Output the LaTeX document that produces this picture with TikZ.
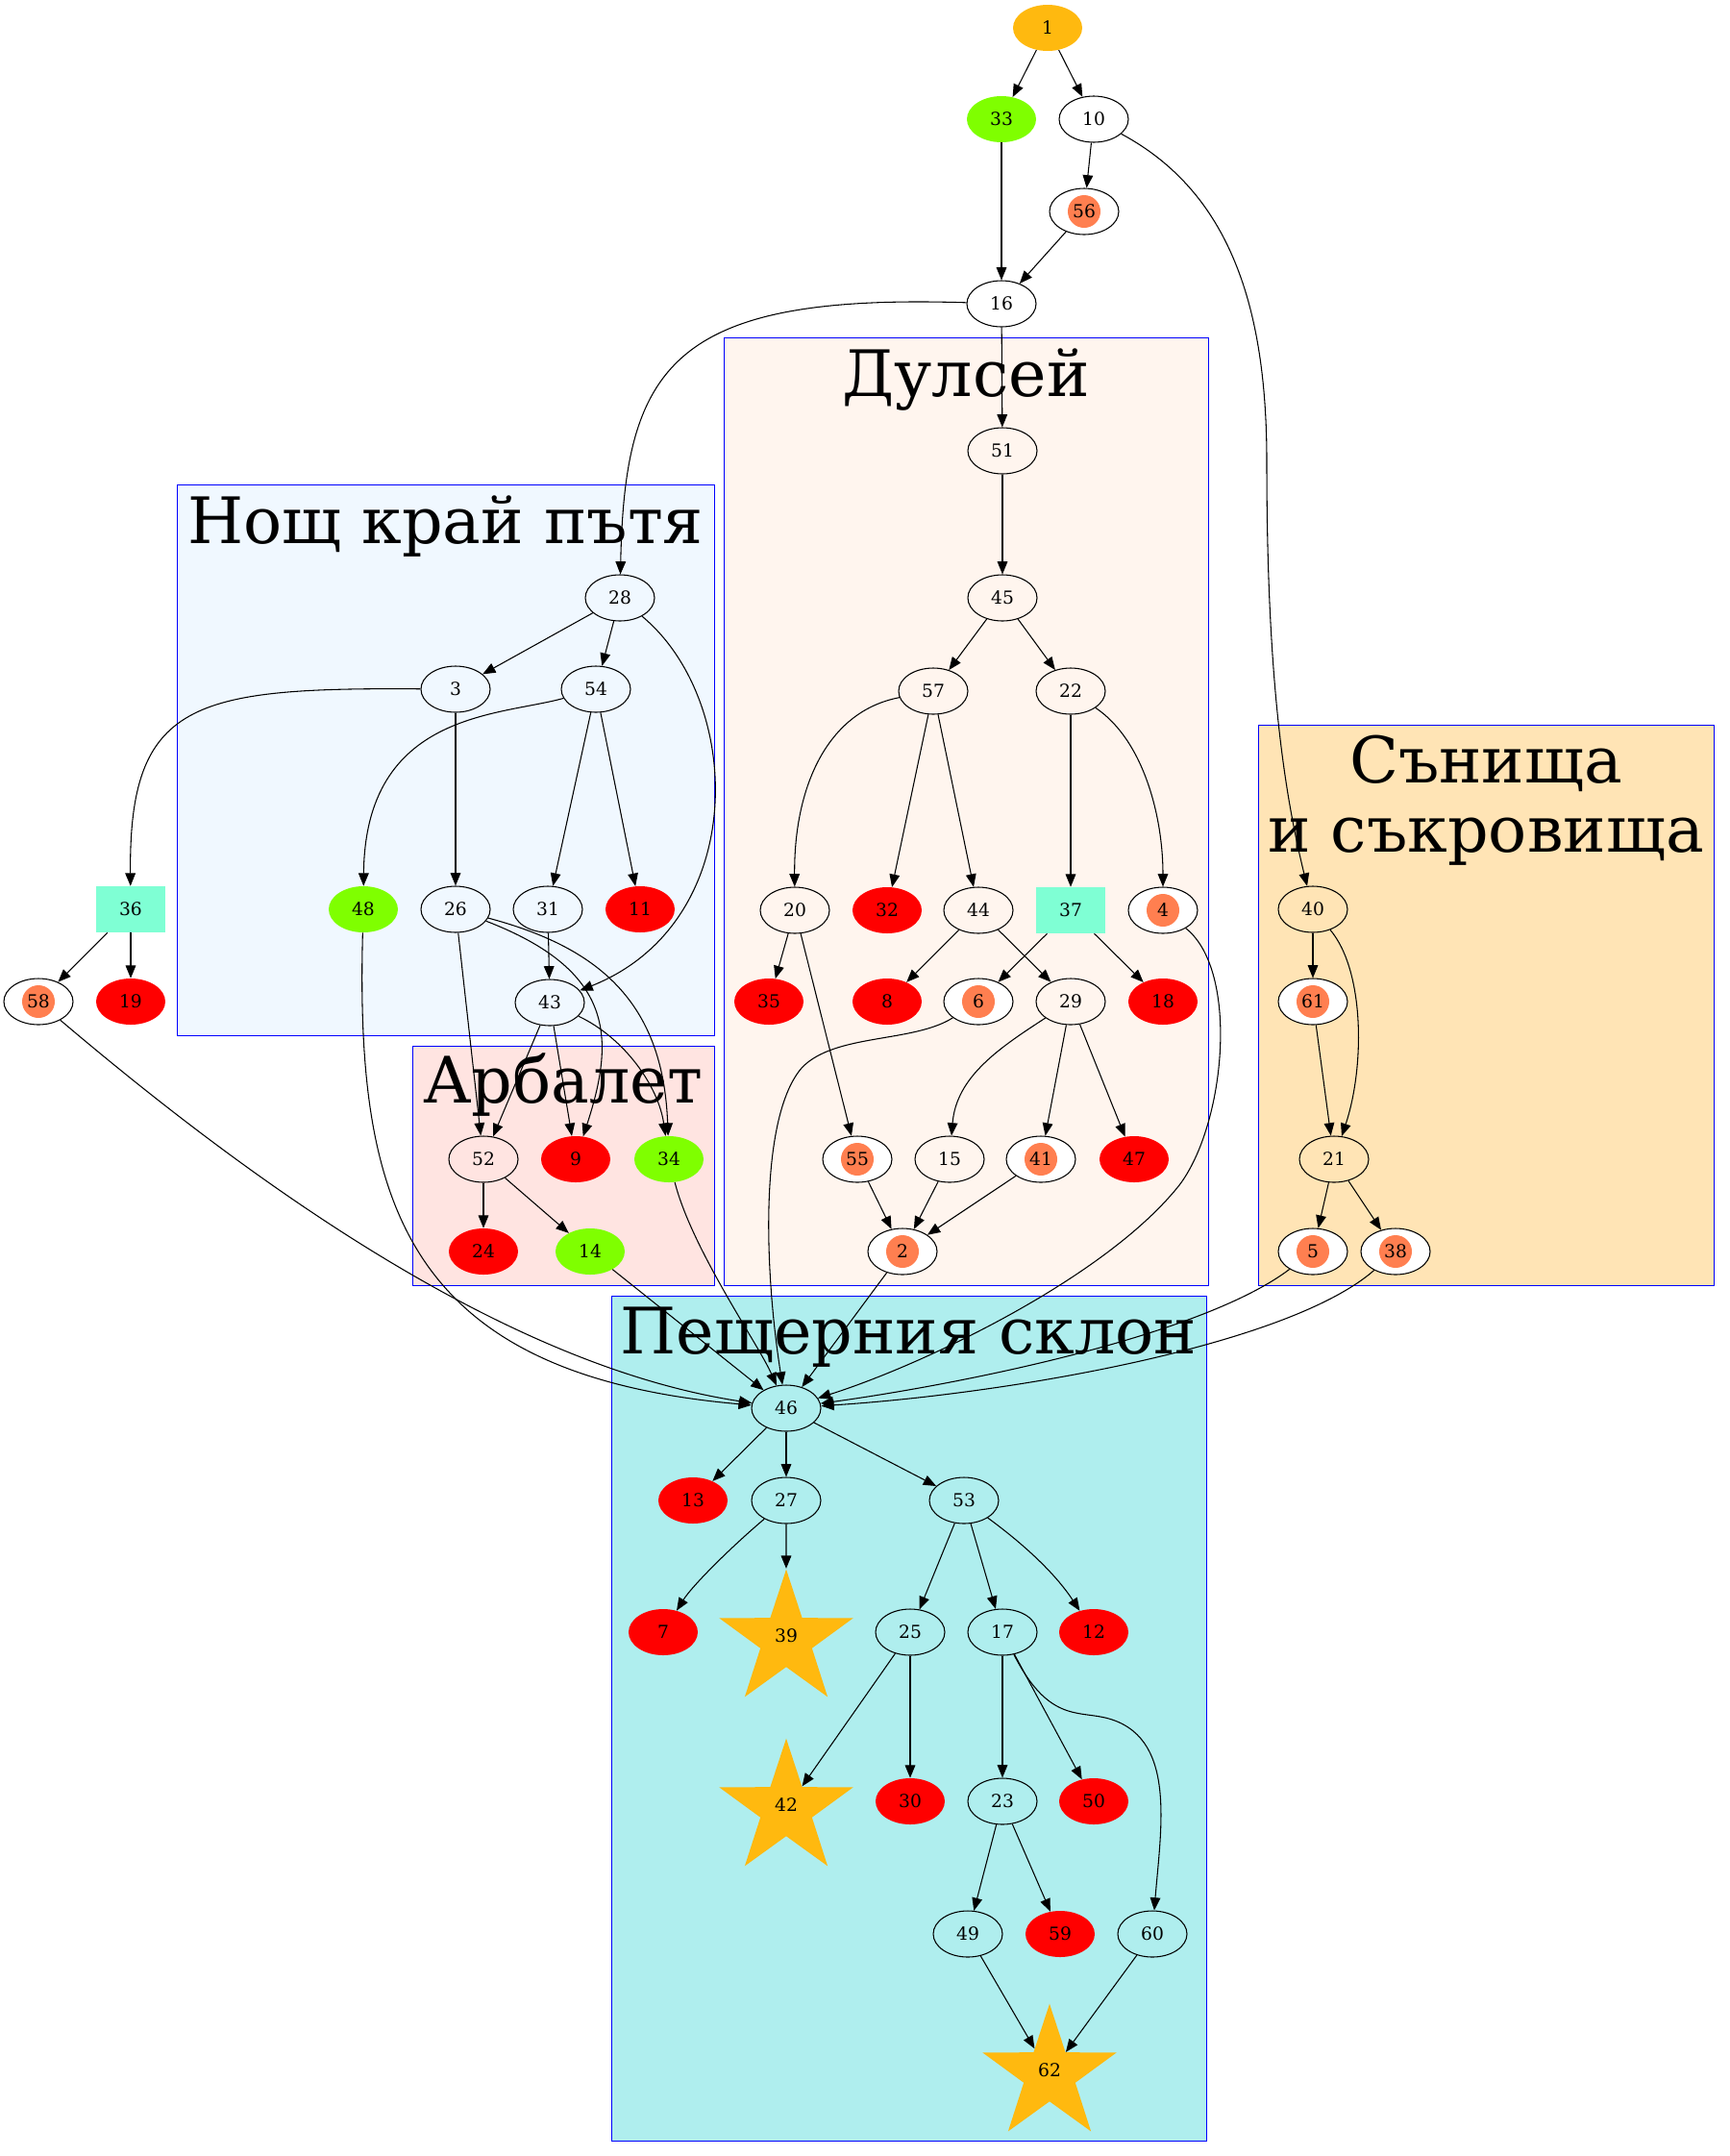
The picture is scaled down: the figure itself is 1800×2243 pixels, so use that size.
\documentclass[tikz,border=0pt]{standalone}
\usepackage{fontspec}
\setmainfont{DejaVu Serif}
\usetikzlibrary{shapes.geometric,arrows.meta}

\definecolor{goldc}{HTML}{FFB90F}
\definecolor{greenc}{HTML}{7FFF00}
\definecolor{coralc}{HTML}{FF7F50}
\definecolor{aquac}{HTML}{7FFFD4}
\definecolor{nightbg}{HTML}{F0F8FF}
\definecolor{dulcbg}{HTML}{FFF5EE}
\definecolor{crossbg}{HTML}{FFE4E1}
\definecolor{dreambg}{HTML}{FFE4B5}
\definecolor{cavebg}{HTML}{AFEEEE}
\newcommand{\numfont}{\fontsize{14}{16}\selectfont}
\newcommand{\bigfont}{\fontsize{50}{60}\selectfont}

\tikzset{
  nd/.style={ellipse, minimum width=54pt, minimum height=36pt, inner sep=0pt, font=\numfont},
  plain/.style={nd, draw, line width=0.8pt},
  hot/.style={nd, fill=red},
  leaf/.style={nd, fill=greenc},
  rootnode/.style={nd, fill=goldc},
  gem/.style={plain, fill=white,
    path picture={\fill[coralc] (path picture bounding box.center) circle (12.75pt);}},
  chest/.style={rectangle, fill=aquac, minimum width=54pt, minimum height=36pt, inner sep=0pt, font=\numfont},
  prize/.style={star, star points=5, star point ratio=2.6, fill=goldc, minimum size=110pt, inner sep=0pt, font=\numfont},
  cluster/.style={draw=blue, line width=0.75pt},
  ctitle/.style={font=\bigfont, anchor=base, inner sep=0pt},
  link/.style={-{Triangle[length=10pt,width=8pt]}, line width=0.8pt},
}

\begin{document}
\begin{tikzpicture}[x=0.75pt, y=-0.75pt]
  \useasboundingbox (0,0) rectangle (1800,2243);

  % clusters
  \draw[cluster, fill=nightbg] (184,504) rectangle (743,1077);
  \node[ctitle] (tnight) at (463.5,565) {Нощ край пътя};
  \draw[cluster, fill=crossbg] (429,1088) rectangle (743,1337);
  \node[ctitle] (tcross) at (586,1147) {Арбалет};
  \draw[cluster, fill=dulcbg] (753,351) rectangle (1257,1337);
  \node[ctitle] (tdulc) at (1005,412) {Дулсей};
  \draw[cluster, fill=dreambg] (1309,754) rectangle (1783,1337);
  \node[ctitle] (tdream1) at (1546,814) {Сънища};
  \node[ctitle] (tdream2) at (1546,886) {и съкровища};
  \draw[cluster, fill=cavebg] (636,1348) rectangle (1255,2227);
  \node[ctitle] (tcave) at (945.5,1408) {Пещерния склон};

  % top
  \node[rootnode] (n1) at (1090,29) {1};
  \node[leaf] (n33) at (1042,124) {33};
  \node[plain] (n10) at (1138,124) {10};
  \node[gem] (n56) at (1128,220) {56};
  \node[plain] (n16) at (1042,316) {16};

  % night
  \node[plain] (n28) at (645,622) {28};
  \node[plain] (n3) at (474,717) {3};
  \node[plain] (n54) at (620,717) {54};
  \node[leaf] (n48) at (378,946) {48};
  \node[plain] (n26) at (474,946) {26};
  \node[plain] (n31) at (570,946) {31};
  \node[hot] (n11) at (666,946) {11};
  \node[plain] (n43) at (572,1043) {43};
  \node[chest] (n36) at (136,946) {36};
  \node[gem] (n58) at (40,1042) {58};
  \node[hot] (n19) at (136,1042) {19};

  % crossbow
  \node[plain] (n52) at (503,1206) {52};
  \node[hot] (n9) at (599,1206) {9};
  \node[leaf] (n34) at (696,1206) {34};
  \node[hot] (n24) at (503,1302) {24};
  \node[leaf] (n14) at (614,1302) {14};

  % dulcey
  \node[plain] (n51) at (1043,469) {51};
  \node[plain] (n45) at (1043,622) {45};
  \node[plain] (n57) at (971,719) {57};
  \node[plain] (n22) at (1114,719) {22};
  \node[plain] (n20) at (827,947) {20};
  \node[hot] (n32) at (923,947) {32};
  \node[plain] (n44) at (1018,947) {44};
  \node[chest] (n37) at (1114,947) {37};
  \node[gem] (n4) at (1210,947) {4};
  \node[hot] (n35) at (800,1042) {35};
  \node[hot] (n8) at (923,1042) {8};
  \node[gem] (n6) at (1018,1042) {6};
  \node[plain] (n29) at (1114,1042) {29};
  \node[hot] (n18) at (1210,1042) {18};
  \node[gem] (n55) at (892,1206) {55};
  \node[plain] (n15) at (988,1206) {15};
  \node[gem] (n41) at (1083,1206) {41};
  \node[hot] (n47) at (1180,1206) {47};
  \node[gem] (n2) at (939,1302) {2};

  % dreams
  \node[plain] (n40) at (1366,946) {40};
  \node[gem] (n61) at (1366,1042) {61};
  \node[plain] (n21) at (1388,1206) {21};
  \node[gem] (n5) at (1366,1302) {5};
  \node[gem] (n38) at (1452,1302) {38};

  % cave
  \node[plain] (n46) at (818,1465) {46};
  \node[hot] (n13) at (721,1561) {13};
  \node[plain] (n27) at (818,1561) {27};
  \node[plain] (n53) at (1003,1561) {53};
  \node[hot] (n7) at (690,1698) {7};
  \node[prize] (n39) at (818,1706) {\raisebox{6pt}{39}};
  \node[plain] (n25) at (947,1698) {25};
  \node[plain] (n17) at (1043,1698) {17};
  \node[hot] (n12) at (1138,1698) {12};
  \node[prize] (n42) at (818,1882) {\raisebox{6pt}{42}};
  \node[hot] (n30) at (947,1874) {30};
  \node[plain] (n23) at (1043,1874) {23};
  \node[hot] (n50) at (1138,1874) {50};
  \node[plain] (n49) at (1007,2012) {49};
  \node[hot] (n59) at (1103,2012) {59};
  \node[plain] (n60) at (1199,2012) {60};
  \node[prize] (n62) at (1092,2158) {\raisebox{6pt}{62}};

  % edges
  \draw[link] (n1) -- (n33);
  \draw[link] (n1) -- (n10);
  \draw[link] (n33) -- (n16);
  \draw[link] (n10) -- (n56);
  \draw[link] (n56) -- (n16);
  \draw[link] (n10) .. controls (1280,200) and (1318,320) .. (1318,480) .. controls (1318,700) and (1335,820) .. (n40);
  \draw[link] (n16) -- (n51);
  \draw[link] (n16) .. controls (700,305) and (650,380) .. (n28);
  \draw[link] (n28) -- (n3);
  \draw[link] (n28) -- (n54);
  \draw[link] (n28) .. controls (775,730) and (780,960) .. (n43);
  \draw[link] (n3) .. controls (200,715) and (134,730) .. (n36);
  \draw[link] (n3) -- (n26);
  \draw[link] (n54) .. controls (520,745) and (380,740) .. (n48);
  \draw[link] (n54) -- (n31);
  \draw[link] (n54) -- (n11);
  \draw[link] (n31) -- (n43);
  \draw[link] (n26) -- (n52);
  \draw[link] (n26) .. controls (640,1010) and (640,1080) .. (n9);
  \draw[link] (n26) .. controls (620,985) and (690,1040) .. (n34);
  \draw[link] (n43) -- (n52);
  \draw[link] (n43) -- (n9);
  \draw[link] (n43) .. controls (650,1080) and (685,1130) .. (n34);
  \draw[link] (n36) -- (n58);
  \draw[link] (n36) -- (n19);
  \draw[link] (n52) -- (n24);
  \draw[link] (n52) -- (n14);
  \draw[link] (n58) .. controls (250,1220) and (520,1420) .. (n46);
  \draw[link] (n48) .. controls (370,1250) and (420,1430) .. (n46);
  \draw[link] (n14) -- (n46);
  \draw[link] (n34) .. controls (720,1300) and (790,1400) .. (n46);
  \draw[link] (n2) -- (n46);
  \draw[link] (n6) .. controls (950,1085) and (870,1075) .. (835,1110) .. controls (790,1160) and (795,1320) .. (n46);
  \draw[link] (n4) .. controls (1290,1010) and (1275,1170) .. (1227,1233) .. controls (1150,1330) and (960,1420) .. (n46);
  \draw[link] (n5) .. controls (1250,1390) and (1000,1440) .. (n46);
  \draw[link] (n38) .. controls (1340,1400) and (1050,1450) .. (n46);
  \draw[link] (n51) -- (n45);
  \draw[link] (n45) -- (n57);
  \draw[link] (n45) -- (n22);
  \draw[link] (n57) .. controls (860,740) and (826,820) .. (n20);
  \draw[link] (n57) -- (n32);
  \draw[link] (n57) -- (n44);
  \draw[link] (n22) -- (n37);
  \draw[link] (n22) .. controls (1190,770) and (1210,850) .. (n4);
  \draw[link] (n20) -- (n35);
  \draw[link] (n20) -- (n55);
  \draw[link] (n44) -- (n8);
  \draw[link] (n44) -- (n29);
  \draw[link] (n37) -- (n6);
  \draw[link] (n37) -- (n18);
  \draw[link] (n29) .. controls (1040,1090) and (995,1120) .. (n15);
  \draw[link] (n29) -- (n41);
  \draw[link] (n29) -- (n47);
  \draw[link] (n55) -- (n2);
  \draw[link] (n15) -- (n2);
  \draw[link] (n41) -- (n2);
  \draw[link] (n40) -- (n61);
  \draw[link] (n40) .. controls (1420,1010) and (1420,1110) .. (n21);
  \draw[link] (n61) -- (n21);
  \draw[link] (n21) -- (n5);
  \draw[link] (n21) -- (n38);
  \draw[link] (n46) -- (n13);
  \draw[link] (n46) -- (n27);
  \draw[link] (n46) -- (n53);
  \draw[link] (n27) .. controls (760,1610) and (720,1650) .. (n7);
  \draw[link] (n27) -- (n39);
  \draw[link] (n53) -- (n25);
  \draw[link] (n53) -- (n17);
  \draw[link] (n53) .. controls (1070,1610) and (1100,1640) .. (n12);
  \draw[link] (n25) -- (n42);
  \draw[link] (n25) -- (n30);
  \draw[link] (n17) -- (n23);
  \draw[link] (n17) -- (n50);
  \draw[link] (n17) .. controls (1090,1790) and (1120,1780) .. (1150,1787) .. controls (1225,1805) and (1208,1900) .. (n60);
  \draw[link] (n23) -- (n49);
  \draw[link] (n23) -- (n59);
  \draw[link] (n49) -- (n62);
  \draw[link] (n60) -- (n62);

\end{tikzpicture}
\end{document}
